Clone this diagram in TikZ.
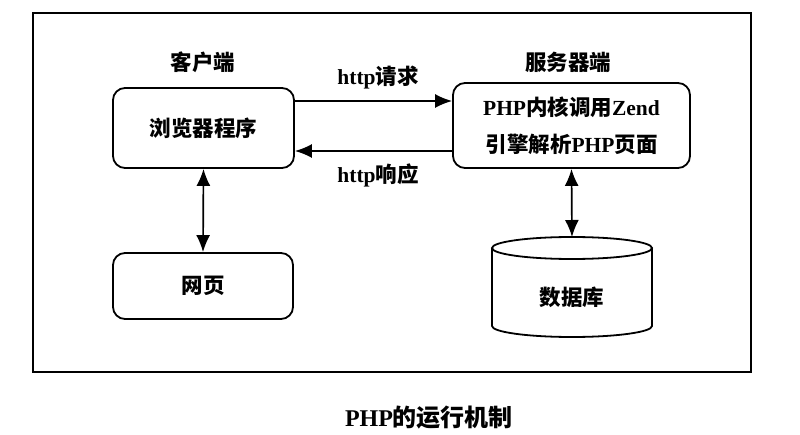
\documentclass[tikz,border=0pt]{standalone}
\usepackage{fontspec}
\setmainfont{Liberation Serif}
\newfontfamily\cjk{Noto Sans CJK SC}
\usetikzlibrary{arrows.meta}
\begin{document}
\begin{tikzpicture}[x=1pt,y=-1pt,
  box/.style={draw, line width=1.8pt, rounded corners=12pt, font=\fontsize{21.5}{24}\selectfont\bfseries},
  lbl/.style={font=\fontsize{21.5}{24}\selectfont\bfseries, inner sep=0pt},
  arr/.style={line width=1.7pt, -{Latex[length=17pt,width=14pt]}},
  darr/.style={line width=1.7pt, {Latex[length=17pt,width=14pt]}-{Latex[length=17pt,width=14pt]}}]
\useasboundingbox (0,0) rectangle (800,435);
\fill[white] (0,0) rectangle (800,435);
% outer frame
\draw[line width=1.9pt] (33,13) rectangle (751,372);
% side headings
\node[lbl] (client) at (203,62) {\cjk 客户端};
\node[lbl] (serverlbl) at (568,62) {\cjk 服务器端};
% boxes
\node[box, minimum width=181pt, minimum height=80pt] (browser) at (203.5,128) {\cjk 浏览器程序};
\node[box, minimum width=237pt, minimum height=85pt, align=center] (server) at (571.5,125.5)
  {PHP{\cjk 内核调用}Zend\\[13pt]{\cjk 引擎解析}PHP{\cjk 页面}};
\node[box, minimum width=180pt, minimum height=66pt] (web) at (203,286) {\cjk 网页};
% database cylinder
\coordinate (dbtop) at (572,237);
\draw[line width=1.8pt, fill=white] (492,248) -- (492,326) arc[start angle=180, end angle=0, x radius=80, y radius=11] -- (652,248);
\draw[line width=1.8pt] (572,248) ellipse[x radius=80, y radius=11];
\node[lbl] (db) at (572,297) {\cjk 数据库};
% connectors
\draw[arr] ([yshift=27pt]browser.east) -- ([yshift=24.5pt]server.west);
\draw[arr] ([yshift=-25.5pt]server.west) -- ([yshift=-23pt]browser.east);
\node[lbl] (req) at (378,78) {http{\cjk 请求}};
\node[lbl] (resp) at (378,175) {http{\cjk 响应}};
\draw[darr] (browser.south) -- (web.north);
\draw[darr] (server.south) -- (dbtop);
% caption
\node[font=\fontsize{24}{28}\selectfont\bfseries, inner sep=0pt] (caption) at (429,418) {PHP{\cjk 的运行机制}};
\end{tikzpicture}
\end{document}
